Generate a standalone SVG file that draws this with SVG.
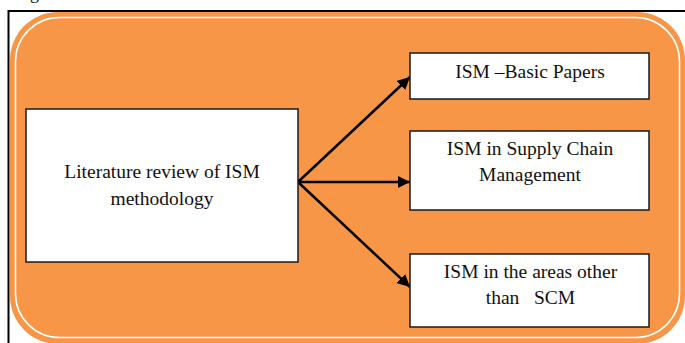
<svg xmlns="http://www.w3.org/2000/svg" width="685" height="343" viewBox="0 0 685 343">
<style>
.box{fill:#ffffff;stroke:#1a1a1a;stroke-width:1.5}
.t{font-family:"Liberation Serif","Times New Roman",serif;font-size:19.5px;fill:#111;text-anchor:middle;white-space:pre}
.c{stroke:#000;stroke-width:2.5;fill:none;marker-end:url(#ah)}
</style>
<defs>
<marker id="ah" viewBox="0 0 10 10" refX="10" refY="5" markerWidth="5" markerHeight="5" orient="auto" markerUnits="strokeWidth">
<path d="M0,0 L10,5 L0,10 Z" fill="#000"/>
</marker>
</defs>
<rect width="685" height="343" fill="#ffffff"/>
<text class="t" x="15" y="-1" style="text-anchor:start;font-size:18px">Figure</text>
<rect x="8.5" y="11" width="700" height="360" fill="none" stroke="#000" stroke-width="2"/>
<g id="background">
<rect x="10" y="12" width="675" height="332" rx="48" fill="#f79646"/>
<rect x="15.5" y="17.5" width="664" height="320" rx="44" fill="none" stroke="#ffffff" stroke-width="1.5"/>
</g>
<g id="connectors">
<line class="c" x1="298" y1="182" x2="410" y2="77"/>
<line class="c" x1="298" y1="182" x2="410" y2="182"/>
<line class="c" x1="298" y1="182" x2="410" y2="287"/>
</g>
<g id="lit">
<rect class="box" x="26" y="109" width="272" height="153"/>
<text class="t" x="162" y="178">Literature review of ISM</text>
<text class="t" x="162" y="205">methodology</text>
</g>
<g id="basic">
<rect class="box" x="410" y="53" width="239" height="46"/>
<text class="t" x="530" y="78">ISM –Basic Papers</text>
</g>
<g id="scm">
<rect class="box" x="410" y="131" width="239" height="79"/>
<text class="t" x="530" y="155">ISM in Supply Chain</text>
<text class="t" x="530" y="181">Management</text>
</g>
<g id="other">
<rect class="box" x="410" y="254" width="239" height="73"/>
<text class="t" x="530.5" y="278">ISM in the areas other</text>
<text class="t" x="530.5" y="304">than   SCM</text>
</g>
</svg>
